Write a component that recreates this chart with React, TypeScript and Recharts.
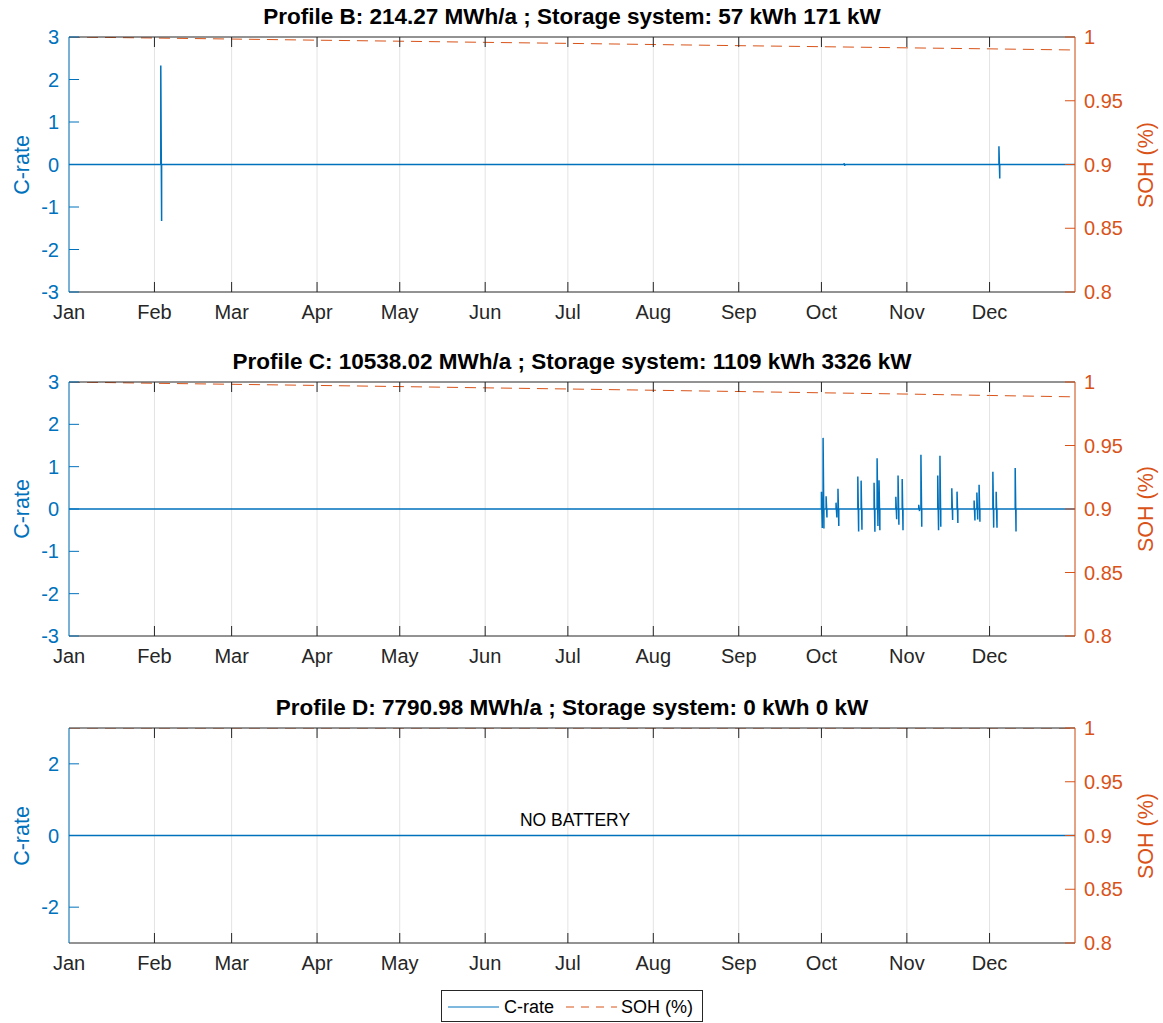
import { CartesianGrid, Line, LineChart, XAxis, YAxis } from "recharts";

const monthDays = [0, 31, 59, 90, 120, 151, 181, 212, 243, 273, 304, 334];
const monthNames = ["Jan", "Feb", "Mar", "Apr", "May", "Jun", "Jul", "Aug", "Sep", "Oct", "Nov", "Dec"];
const crateTicks = [-3, -2, -1, 0, 1, 2, 3];
const crateTicksSparse = [-2, 0, 2];
const sohTicks = [0.8, 0.85, 0.9, 0.95, 1];

// C-rate excursions as [day of year, max charge, max discharge]
const spikesB: [number, number, number][] = [
  [33.3, 2.33, -1.33],
  [281.2, 0.03, -0.03],
  [337.4, 0.43, -0.33],
];
const spikesC: [number, number, number][] = [
  [273.0, 0.41, -0.45],
  [273.6, 1.68, -0.46],
  [274.7, 0.3, -0.2],
  [278.3, 0.15, -0.2],
  [279.0, 0.48, -0.4],
  [286.2, 0.77, -0.53],
  [287.4, 0.67, -0.49],
  [292.1, 0.62, -0.54],
  [293.2, 1.2, -0.4],
  [293.9, 0.68, -0.5],
  [300.0, 0.29, -0.24],
  [300.8, 0.79, -0.37],
  [302.3, 0.71, -0.5],
  [308.3, 0.1, -0.05],
  [309.1, 1.28, -0.42],
  [315.2, 0.79, -0.5],
  [316.0, 1.26, -0.42],
  [320.3, 0.49, -0.26],
  [322.2, 0.41, -0.33],
  [328.4, 0.2, -0.27],
  [329.4, 0.39, -0.25],
  [330.2, 0.57, -0.3],
  [335.2, 0.88, -0.44],
  [336.4, 0.41, -0.44],
  [343.3, 0.97, -0.53],
];
const spikesD: [number, number, number][] = [];

// state of health sampled at month starts plus year end
const sohDays = [0, 31, 59, 90, 120, 151, 181, 212, 243, 273, 304, 334, 365];
const sohB = [1.0, 0.9992, 0.9984, 0.9975, 0.9967, 0.9958, 0.995, 0.9941, 0.9932, 0.9924, 0.9915, 0.9907, 0.9898];
const sohC = [1.0, 0.999, 0.9982, 0.9973, 0.9964, 0.9954, 0.9945, 0.9935, 0.9925, 0.9915, 0.9905, 0.9894, 0.9883];
const sohD = [1, 1, 1, 1, 1, 1, 1, 1, 1, 1, 1, 1, 1];

const BLUE = "#0072BD";
const ORANGE = "#D95319";
const DARK = "#262626";
const FONT = "'Liberation Sans', Arial, Helvetica, sans-serif";
const PLOT_LEFT = 69;
const PLOT_RIGHT = 1075;
const SPIKE_SPAN = 0.3;

function crateSeries(spikes: [number, number, number][]) {
  const pts: { d: number; c: number }[] = [{ d: 0, c: 0 }];
  for (const [d, hi, lo] of spikes) {
    pts.push({ d, c: 0 }, { d, c: hi }, { d: d + SPIKE_SPAN, c: lo }, { d: d + SPIKE_SPAN, c: 0 });
  }
  pts.push({ d: 365, c: 0 });
  return pts;
}

function sohSeries(values: number[]) {
  return sohDays.map((d, i) => ({ d, s: values[i] }));
}

// the Jan tick would sit on the coloured y axis, so it is left out
const BottomTick = (props: any) => {
  const { x, y, payload } = props;
  return (
    <g>
      {payload.value !== 0 && <line x1={x} x2={x} y1={y} y2={y - 10} stroke={DARK} />}
      <text x={x} y={y + 27} textAnchor="middle" fill={DARK} fontSize={20} fontFamily={FONT}>
        {monthNames[monthDays.indexOf(payload.value)]}
      </text>
    </g>
  );
};

const TopTick = (props: any) => {
  const { x, y, payload } = props;
  if (payload.value === 0) return <g />;
  return <line x1={x} x2={x} y1={y} y2={y + 10} stroke={DARK} />;
};

const LeftTick = (props: any) => {
  const { x, y, payload } = props;
  return (
    <g>
      <line x1={x} x2={x + 10} y1={y} y2={y} stroke={BLUE} />
      <text x={x - 10} y={y + 7} textAnchor="end" fill={BLUE} fontSize={20} fontFamily={FONT}>
        {payload.value}
      </text>
    </g>
  );
};

const RightTick = (props: any) => {
  const { x, y, payload } = props;
  return (
    <g>
      <line x1={x} x2={x - 10} y1={y} y2={y} stroke={ORANGE} />
      <text x={x + 9} y={y + 7} textAnchor="start" fill={ORANGE} fontSize={20} fontFamily={FONT}>
        {payload.value}
      </text>
    </g>
  );
};

interface PanelProps {
  title: string;
  plotTop: number;
  plotBottom: number;
  spikes: [number, number, number][];
  soh: number[];
  leftTicks: number[];
  note?: string;
}

function ProfilePanel({ title, plotTop, plotBottom, spikes, soh, leftTicks, note }: PanelProps) {
  const chartTop = plotTop - 37;
  const height = plotBottom - chartTop + 48;
  const mid = (plotTop + plotBottom) / 2;
  return (
    <>
      <div
        style={{
          position: "absolute",
          left: PLOT_LEFT,
          width: PLOT_RIGHT - PLOT_LEFT,
          top: plotTop - 33,
          lineHeight: "26px",
          textAlign: "center",
          fontWeight: "bold",
          fontSize: 22.5,
          color: "#000",
          whiteSpace: "nowrap",
        }}
      >
        {title}
      </div>
      <div style={{ position: "absolute", top: chartTop, left: 0 }}>
        <LineChart width={1163} height={height} margin={{ top: 27, right: 28, bottom: 18, left: 29 }}>
          <CartesianGrid vertical horizontal={false} stroke="#e3e3e3" />
          <XAxis
            dataKey="d"
            type="number"
            domain={[0, 365]}
            ticks={monthDays}
            allowDataOverflow
            height={30}
            tickSize={0}
            tickMargin={0}
            tick={<BottomTick />}
            axisLine={{ stroke: DARK }}
            tickLine={false}
            interval={0}
          />
          <XAxis
            xAxisId="top"
            orientation="top"
            dataKey="d"
            type="number"
            domain={[0, 365]}
            ticks={monthDays}
            allowDataOverflow
            height={10}
            tickSize={0}
            tickMargin={0}
            tick={<TopTick />}
            axisLine={{ stroke: DARK }}
            tickLine={false}
            interval={0}
          />
          <YAxis
            yAxisId="left"
            type="number"
            domain={[-3, 3]}
            ticks={leftTicks}
            allowDataOverflow
            width={40}
            tickSize={0}
            tickMargin={0}
            tick={<LeftTick />}
            axisLine={{ stroke: BLUE }}
            tickLine={false}
            interval={0}
          />
          <YAxis
            yAxisId="right"
            orientation="right"
            type="number"
            domain={[0.8, 1]}
            ticks={sohTicks}
            allowDataOverflow
            width={60}
            tickSize={0}
            tickMargin={0}
            tick={<RightTick />}
            axisLine={{ stroke: ORANGE }}
            tickLine={false}
            interval={0}
          />
          <Line
            yAxisId="left"
            data={crateSeries(spikes)}
            dataKey="c"
            type="linear"
            stroke={BLUE}
            strokeWidth={1.5}
            dot={false}
            isAnimationActive={false}
          />
          <Line
            yAxisId="right"
            data={sohSeries(soh)}
            dataKey="s"
            type="linear"
            stroke={ORANGE}
            strokeWidth={1}
            strokeDasharray="11 7"
            dot={false}
            isAnimationActive={false}
          />
        </LineChart>
      </div>
      <div
        style={{
          position: "absolute",
          left: 22,
          top: mid,
          transform: "translate(-50%, -50%) rotate(-90deg)",
          color: BLUE,
          fontSize: 21.5,
          whiteSpace: "nowrap",
        }}
      >
        C-rate
      </div>
      <div
        style={{
          position: "absolute",
          left: 1146,
          top: mid,
          transform: "translate(-50%, -50%) rotate(-90deg)",
          color: ORANGE,
          fontSize: 21.5,
          whiteSpace: "nowrap",
        }}
      >
        SOH (%)
      </div>
      {note && (
        <div
          style={{
            position: "absolute",
            left: 475,
            width: 200,
            top: mid - 26,
            textAlign: "center",
            fontSize: 17.5,
            color: "#000",
          }}
        >
          {note}
        </div>
      )}
    </>
  );
}

export default function App() {
  return (
    <div
      style={{
        position: "absolute",
        left: 0,
        top: 0,
        width: 1163,
        height: 1023,
        background: "#fff",
        fontFamily: FONT,
      }}
    >
      <ProfilePanel
        title="Profile B: 214.27 MWh/a ; Storage system: 57 kWh 171 kW"
        plotTop={37}
        plotBottom={292}
        spikes={spikesB}
        soh={sohB}
        leftTicks={crateTicks}
      />
      <ProfilePanel
        title="Profile C: 10538.02 MWh/a ; Storage system: 1109 kWh 3326 kW"
        plotTop={382}
        plotBottom={636}
        spikes={spikesC}
        soh={sohC}
        leftTicks={crateTicks}
      />
      <ProfilePanel
        title="Profile D: 7790.98 MWh/a ; Storage system: 0 kWh 0 kW"
        plotTop={728}
        plotBottom={943}
        spikes={spikesD}
        soh={sohD}
        leftTicks={crateTicksSparse}
        note="NO BATTERY"
      />
      <div
        style={{
          position: "absolute",
          left: 441,
          top: 990,
          width: 260,
          height: 30,
          border: `1px solid ${DARK}`,
        }}
      >
        <svg width={260} height={30} style={{ position: "absolute", left: 0, top: 0 }}>
          <line x1={6} x2={57} y1={16} y2={16} stroke={BLUE} strokeWidth={1} />
          <text x={62} y={22} fontSize={18} fontFamily={FONT} fill="#000">
            C-rate
          </text>
          <line x1={124} x2={175} y1={16} y2={16} stroke={ORANGE} strokeWidth={1} strokeDasharray="8 7" />
          <text x={179} y={22} fontSize={18} fontFamily={FONT} fill="#000">
            SOH (%)
          </text>
        </svg>
      </div>
    </div>
  );
}
